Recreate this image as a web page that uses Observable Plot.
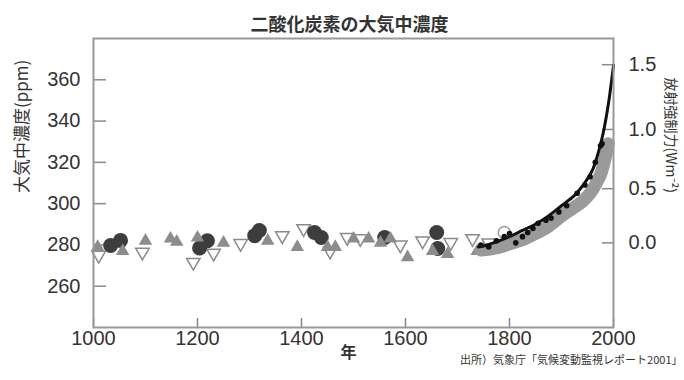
<!DOCTYPE html>
<html><head><meta charset="utf-8">
<script src="https://cdn.jsdelivr.net/npm/d3@7"></script>
<script src="https://cdn.jsdelivr.net/npm/@observablehq/plot@0.6"></script>
<style>
body{margin:0;background:#fff;}
#chart svg{display:block;}
</style></head>
<body><div id="chart"></div>
<script>
const titleText = "二酸化炭素の大気中濃度";
const yLabel = "大気中濃度(ppm)";
const y2Label = "放射強制力(Wm⁻²)";
const xLabel = "年";
const sourceText = "出所）気象庁「気候変動監視レポート2001」";

const xTicks = [1000, 1200, 1400, 1600, 1800, 2000];
const yTicks = [260, 280, 300, 320, 340, 360];
const forcingTicks = [0.0, 0.5, 1.0, 1.5];

// dark filled circles
const circleYears = [1033, 1052, 1204, 1219, 1310, 1319, 1425, 1438, 1560, 1660, 1662];
const circlePpm   = [279.7, 282.2, 278.5, 282.0, 284.5, 287.0, 286.0, 283.6, 283.6, 286.0, 278.3];
// gray filled up-triangles
const triYears = [1008, 1056, 1100, 1148, 1160, 1200, 1250, 1335, 1392, 1450, 1465, 1500, 1529, 1552, 1571, 1604, 1652, 1681, 1738, 1758];
const triPpm   = [279.0, 277.0, 282.0, 283.0, 281.5, 283.5, 281.0, 282.0, 279.0, 279.0, 279.0, 283.0, 283.0, 281.0, 283.0, 274.0, 277.0, 275.5, 277.0, 277.0];
// open down-triangles
const openTriYears = [1010, 1094, 1192, 1231, 1283, 1363, 1404, 1455, 1488, 1513, 1590, 1633, 1687, 1729, 1760];
const openTriPpm   = [275.0, 276.5, 271.6, 276.0, 280.7, 284.5, 287.9, 277.0, 283.6, 283.1, 280.0, 282.0, 281.2, 283.1, 281.0];
// open circle
const openCircleYears = [1790];
const openCirclePpm = [286.0];
// thick gray band (ice core)
const bandYears = [1745, 1775, 1800, 1825, 1850, 1875, 1900, 1920, 1940, 1955, 1965, 1975, 1983, 1990];
const bandPpm   = [277.5, 278.5, 280.5, 282.5, 285.5, 289.0, 294.0, 297.5, 301.0, 305.0, 309.0, 314.0, 321.0, 329.0];
// black line (direct / firn measurements)
const lineYears = [1740, 1750, 1775, 1800, 1825, 1850, 1875, 1900, 1925, 1950, 1960, 1970, 1980, 1990, 2000];
const linePpm   = [279.0, 279.5, 281.5, 284.0, 287.0, 290.0, 294.0, 299.0, 304.0, 312.0, 316.5, 324.0, 334.0, 348.0, 367.0];
// black scattered dots
const dotYears = [1745, 1760, 1775, 1790, 1800, 1812, 1825, 1835, 1845, 1855, 1870, 1880, 1895, 1910, 1930, 1945, 1955, 1965, 1975, 1978];
const dotPpm   = [280.0, 279.0, 282.0, 284.0, 285.5, 281.0, 284.0, 286.0, 288.0, 290.5, 292.0, 293.0, 296.0, 299.0, 305.0, 309.0, 313.0, 320.0, 328.0, 329.0];

const zip = (xs, ys) => xs.map((x, i) => ({x, y: ys[i]}));
const C0 = 281, K = 5.6;
const toPpm = f => C0 * Math.exp(f / K);
const toF = c => K * Math.log(c / C0);

const downTriangle = {
  draw(context, size) {
    const y = Math.sqrt(size / (Math.sqrt(3) * 3));
    context.moveTo(0, 2 * y);
    context.lineTo(-Math.sqrt(3) * y, -y);
    context.lineTo(Math.sqrt(3) * y, -y);
    context.closePath();
  }
};

const W = 684, H = 380;
const mL = 93, mR = 71, mT = 38, mB = 53;
const pw = W - mL - mR, ph = H - mT - mB;
const font = "'Liberation Sans', Arial, 'Noto Sans CJK JP', sans-serif";
const cjk = "'Noto Sans CJK JP', sans-serif";
const textColor = "#333";
const tickColor = "#8a8a8a";

const chart = Plot.plot({
  width: W, height: H,
  marginLeft: mL, marginRight: mR, marginTop: mT, marginBottom: mB,
  style: {fontFamily: font, color: textColor, background: "#fff"},
  x: {domain: [1000, 2000], axis: null},
  y: {domain: [240, 380], axis: null},
  marks: [
    Plot.tickY(yTicks, {y: d => d, insetRight: pw - 13, stroke: tickColor, strokeWidth: 1.5}),
    Plot.tickY(forcingTicks.map(toPpm), {y: d => d, insetLeft: pw - 11, stroke: tickColor, strokeWidth: 1.5}),
    Plot.tickX(xTicks, {x: d => d, insetTop: ph - 9, stroke: tickColor, strokeWidth: 1.5}),
    Plot.axisY({anchor: "left", ticks: yTicks, tickSize: 0, tickPadding: 13, fontSize: 20, label: null}),
    Plot.axisY({anchor: "right", ticks: forcingTicks.map(toPpm), tickFormat: d => toF(d).toFixed(1), tickSize: 0, tickPadding: 15, fontSize: 20, label: null}),
    Plot.axisX({anchor: "bottom", ticks: xTicks, tickFormat: d => String(d), tickSize: 0, tickPadding: 3, fontSize: 20, label: null}),
    Plot.dot(zip(openTriYears, openTriPpm), {x: "x", y: "y", symbol: downTriangle, r: 5, fill: "#fff", stroke: "#8a8a8a", strokeWidth: 1.5}),
    Plot.dot(zip(circleYears, circlePpm), {x: "x", y: "y", r: 7.5, fill: "#3d3d3d"}),
    Plot.dot(zip(triYears, triPpm), {x: "x", y: "y", symbol: "triangle", r: 5, fill: "#8c8c8c"}),
    Plot.dot(zip(openCircleYears, openCirclePpm), {x: "x", y: "y", r: 6, fill: "#fff", stroke: "#999", strokeWidth: 1.5}),
    Plot.line(zip(bandYears, bandPpm), {x: "x", y: "y", stroke: "#9a9a9a", strokeWidth: 13, strokeLinecap: "round", curve: "catmull-rom"}),
    Plot.line(zip(lineYears, linePpm), {x: "x", y: "y", stroke: "#111", strokeWidth: 3, curve: "catmull-rom"}),
    Plot.dot(zip(dotYears, dotPpm), {x: "x", y: "y", r: 2.8, fill: "#111"}),
    Plot.frame({stroke: "#999", strokeWidth: 2}),
    Plot.text([titleText], {frameAnchor: "top", dx: -4, dy: -20, fontSize: 18, fontWeight: "bold", fontFamily: cjk, fill: "#333"}),
    Plot.text([yLabel], {frameAnchor: "left", rotate: -90, dx: -71, dy: 10, fontSize: 17, fontFamily: cjk, fill: "#333"}),
    Plot.text([y2Label], {frameAnchor: "right", rotate: 90, dx: 57, dy: 10, fontSize: 14, fontFamily: cjk, fill: "#333"}),
    Plot.text([xLabel], {frameAnchor: "bottom", dx: -5, dy: 30, fontSize: 16, fontWeight: "bold", fontFamily: cjk, fill: "#333"}),
    Plot.text([sourceText], {frameAnchor: "bottom-right", dx: 69, dy: 36, textAnchor: "end", fontSize: 11, fontFamily: cjk, fill: "#333"})
  ]
});
document.getElementById("chart").appendChild(chart);
</script>
</body></html>
